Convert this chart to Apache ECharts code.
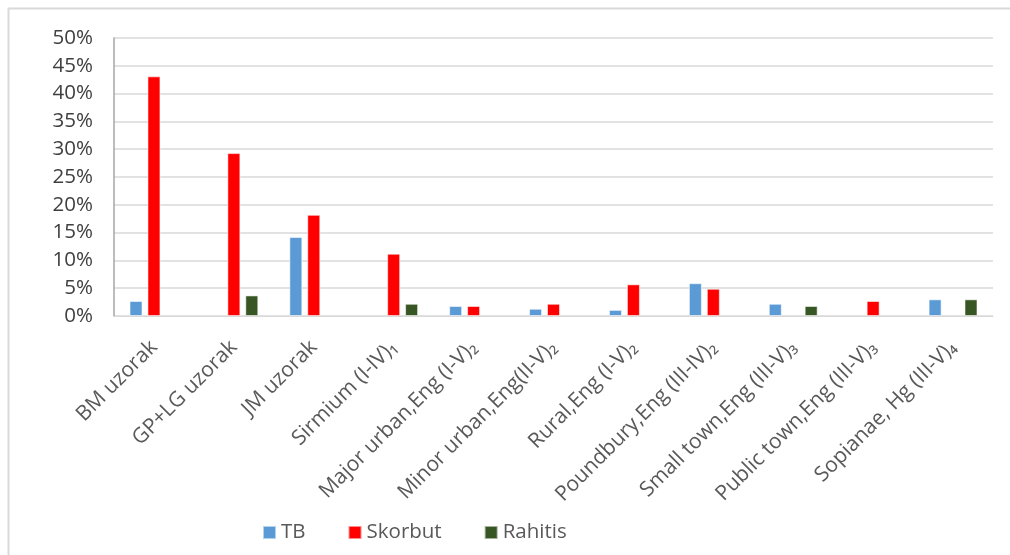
<!DOCTYPE html>
<html>
<head>
<meta charset="utf-8">
<script src="https://cdn.jsdelivr.net/npm/echarts@6/dist/echarts.min.js"></script>
<style>
  html, body { margin: 0; padding: 0; background: #ffffff; }
  #chart { width: 1010px; height: 555px; }
</style>
</head>
<body>
<div id="chart"></div>
<script>
// Sample sites / comparison series
const categories = [
  'BM uzorak',
  'GP+LG uzorak',
  'JM uzorak',
  'Sirmium (I-IV)\u2081',
  'Major urban,Eng (I-V)\u2082',
  'Minor urban,Eng(II-V)\u2082',
  'Rural,Eng (I-V)\u2082',
  'Poundbury,Eng (III-IV)\u2082',
  'Small town,Eng (III-V)\u2083',
  'Public town,Eng (III-V)\u2083',
  'Sopianae, Hg (III-V)\u2084'
];

// Prevalence in percent (null = not reported)
const tb       = [2.7, null, 14.2, null, 1.8, 1.3, 1.1, 5.9, 2.2, null, 3.0];
const skorbut  = [43.1, 29.3, 18.2, 11.2, 1.8, 2.2, 5.7, 4.9, null, 2.7, null];
const rahitis  = [null, 3.7, null, 2.2, null, null, null, null, 1.8, null, 3.0];

const seriesNames = ['TB', 'Skorbut', 'Rahitis'];
const seriesColors = ['#5b9bd5', '#ff0000', '#375623'];
const yTicks = { min: 0, max: 50, interval: 5 };

const FONT = '"Open Sans", "Liberation Sans", sans-serif';

const chart = echarts.init(document.getElementById('chart'), null, { renderer: 'canvas' });

function barSeries(name, data, color) {
  return {
    name: name,
    type: 'bar',
    data: data,
    barWidth: 13,
    barGap: '38%',
    itemStyle: {
      color: color,
      borderColor: 'rgba(255,255,255,0.55)',
      borderWidth: 1
    }
  };
}

chart.setOption({
  animation: false,
  backgroundColor: '#ffffff',
  graphic: [
    // chart frame (top and left edges)
    { type: 'line', shape: { x1: 8, y1: 8.5, x2: 1010, y2: 8.5 },
      style: { stroke: '#d9d9d9', lineWidth: 2 } },
    { type: 'line', shape: { x1: 8.5, y1: 8, x2: 8.5, y2: 555 },
      style: { stroke: '#d9d9d9', lineWidth: 2 } }
  ],
  grid: { left: 114, right: 17, top: 38, bottom: 239, containLabel: false },
  legend: {
    data: seriesNames,
    left: 257,
    top: 517,
    itemWidth: 13,
    itemHeight: 13,
    itemGap: 42,
    icon: 'rect',
    textStyle: { fontFamily: FONT, fontSize: 20.5, color: '#595959' }
  },
  xAxis: {
    type: 'category',
    data: categories,
    axisLine: { show: true, lineStyle: { color: '#d9d9d9', width: 1 } },
    axisTick: { show: false },
    axisLabel: {
      rotate: 45,
      interval: 0,
      margin: 28,
      fontFamily: FONT,
      fontSize: 21,
      color: '#595959'
    }
  },
  yAxis: {
    type: 'value',
    min: yTicks.min,
    max: yTicks.max,
    interval: yTicks.interval,
    axisLine: { show: true, lineStyle: { color: '#a6a6a6', width: 1.5 } },
    axisTick: { show: false },
    splitLine: { show: true, lineStyle: { color: '#d9d9d9', width: 1.5 } },
    axisLabel: {
      margin: 21,
      fontFamily: FONT,
      fontSize: 20.5,
      color: '#404040',
      formatter: v => v + '%'
    }
  },
  series: [
    barSeries(seriesNames[0], tb, seriesColors[0]),
    barSeries(seriesNames[1], skorbut, seriesColors[1]),
    barSeries(seriesNames[2], rahitis, seriesColors[2])
  ]
});
</script>
</body>
</html>
